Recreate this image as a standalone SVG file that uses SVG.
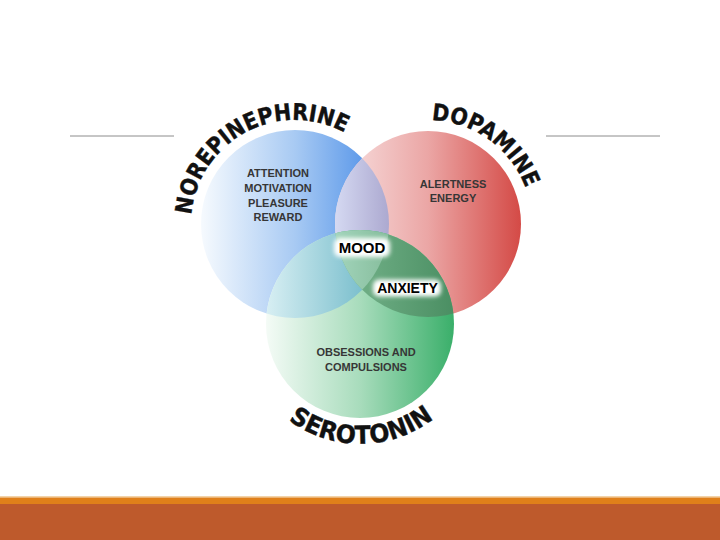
<svg xmlns="http://www.w3.org/2000/svg" width="720" height="540" viewBox="0 0 720 540">
<style>
.arc{font-family:"DejaVu Sans","Liberation Sans",sans-serif;font-weight:bold;font-size:23px;fill:#111;stroke:#111;stroke-width:0.4}
.inner{font-family:"Liberation Sans",Arial,sans-serif;font-weight:bold;font-size:11px;fill:#363636;text-anchor:middle}
.key{font-family:"Liberation Sans",Arial,sans-serif;font-weight:bold;fill:#000;text-anchor:middle}
.rule{stroke:#8c8c8c;stroke-width:1}
</style>
<defs>
<linearGradient id="gBlue" x1="0" y1="0" x2="1" y2="0">
<stop offset="0" stop-color="#f6fafe"/><stop offset="0.5" stop-color="#a8caf3"/><stop offset="1" stop-color="#4288e6"/>
</linearGradient>
<linearGradient id="gRed" x1="0" y1="0" x2="1" y2="0">
<stop offset="0" stop-color="#f8e2e2"/><stop offset="0.5" stop-color="#eba6a5"/><stop offset="1" stop-color="#d44a46"/>
</linearGradient>
<linearGradient id="gGreen" x1="0" y1="0" x2="1" y2="0">
<stop offset="0" stop-color="#f4fbf6"/><stop offset="0.5" stop-color="#a8dcbc"/><stop offset="1" stop-color="#3aaf6a"/>
</linearGradient>
<linearGradient id="gBR" gradientUnits="userSpaceOnUse" x1="336" y1="0" x2="389" y2="0">
<stop offset="0" stop-color="#d4d8f1"/><stop offset="1" stop-color="#aca9d0"/>
</linearGradient>
<linearGradient id="gGB" gradientUnits="userSpaceOnUse" x1="266" y1="0" x2="389" y2="0">
<stop offset="0" stop-color="#d8eff3"/><stop offset="1" stop-color="#62b2c3"/>
</linearGradient>
<linearGradient id="gGR" gradientUnits="userSpaceOnUse" x1="336" y1="0" x2="455" y2="0">
<stop offset="0" stop-color="#78b68e"/><stop offset="1" stop-color="#4a8e62"/>
</linearGradient>
<linearGradient id="gAll" gradientUnits="userSpaceOnUse" x1="336" y1="0" x2="389" y2="0">
<stop offset="0" stop-color="#a2d4bb"/><stop offset="1" stop-color="#86bd9c"/>
</linearGradient>
<clipPath id="cBlue"><circle cx="295" cy="224" r="94"/></clipPath>
<clipPath id="cRed"><circle cx="428" cy="224" r="93"/></clipPath>
<filter id="glow" x="-30%" y="-60%" width="160%" height="220%"><feGaussianBlur stdDeviation="2"/></filter>
<path id="pNor" d="M 191.4 214.9 A 104 104 0 0 1 347 133.9"/>
<path id="pDop" d="M 431.6 120.1 A 104 104 0 0 1 525.7 188.4"/>
<path id="pSer" d="M 288.5 420 A 120 120 0 0 0 434 418.5"/>
</defs>
<rect width="720" height="540" fill="#fff"/>
<line class="rule" x1="70" y1="136" x2="174" y2="136"/>
<line class="rule" x1="546" y1="136" x2="660" y2="136"/>
<rect x="0" y="496" width="720" height="1.5" fill="#f3d3a8"/>
<rect x="0" y="497.5" width="720" height="6.5" fill="#e0801a"/>
<rect x="0" y="504" width="720" height="36" fill="#be5a2c"/>

<g id="norepinephrine">
<circle cx="295" cy="224" r="94" fill="url(#gBlue)"/>
</g>
<g id="dopamine">
<circle cx="428" cy="224" r="93" fill="url(#gRed)"/>
</g>
<g id="overlap-nor-dop">
<circle cx="428" cy="224" r="93" fill="url(#gBR)" clip-path="url(#cBlue)"/>
</g>
<g id="serotonin">
<circle cx="360" cy="324" r="94" fill="url(#gGreen)"/>
</g>
<g id="overlap-nor-ser">
<circle cx="360" cy="324" r="94" fill="url(#gGB)" clip-path="url(#cBlue)"/>
</g>
<g id="overlap-dop-ser">
<circle cx="360" cy="324" r="94" fill="url(#gGR)" clip-path="url(#cRed)"/>
</g>
<g id="overlap-all">
<g clip-path="url(#cRed)"><circle cx="360" cy="324" r="94" fill="url(#gAll)" clip-path="url(#cBlue)"/></g>
</g>

<g id="norepinephrine-labels">
<text class="arc"><textPath href="#pNor" textLength="206" lengthAdjust="spacingAndGlyphs">NOREPINEPHRINE</textPath></text>
<text class="inner" x="278" y="177">ATTENTION</text>
<text class="inner" x="278" y="192">MOTIVATION</text>
<text class="inner" x="278" y="206.5">PLEASURE</text>
<text class="inner" x="278" y="221">REWARD</text>
</g>
<g id="dopamine-labels">
<text class="arc"><textPath href="#pDop" textLength="123" lengthAdjust="spacingAndGlyphs">DOPAMINE</textPath></text>
<text class="inner" x="453" y="188">ALERTNESS</text>
<text class="inner" x="453" y="202">ENERGY</text>
</g>
<g id="serotonin-labels">
<text class="arc" style="font-size:25px"><textPath href="#pSer" textLength="156" lengthAdjust="spacingAndGlyphs">SEROTONIN</textPath></text>
<text class="inner" x="366" y="356">OBSESSIONS AND</text>
<text class="inner" x="366" y="371">COMPULSIONS</text>
</g>
<g id="mood">
<rect x="334" y="238" width="56" height="19" rx="6" fill="#fff" filter="url(#glow)"/>
<text class="key" x="362" y="253" style="font-size:15px">MOOD</text>
</g>
<g id="anxiety">
<rect x="373" y="279.5" width="68" height="17" rx="6" fill="#fff" filter="url(#glow)"/>
<text class="key" x="407.5" y="293" style="font-size:14px">ANXIETY</text>
</g>
<g id="connectors"/>
</svg>
